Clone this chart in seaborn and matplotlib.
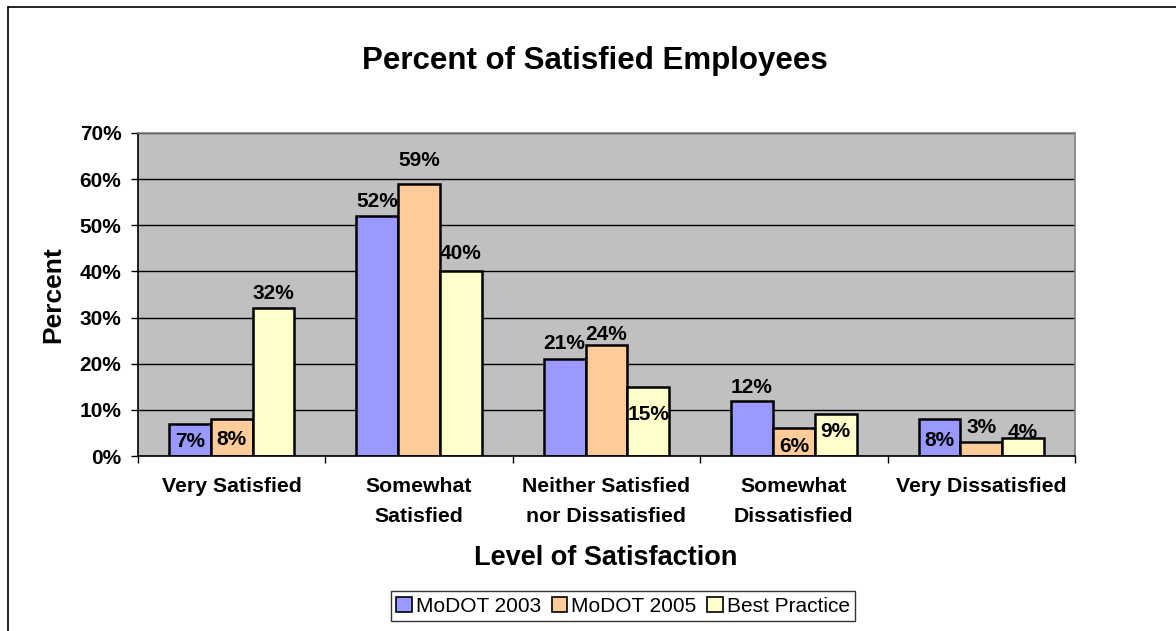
import pandas as pd
import seaborn as sns
import matplotlib.pyplot as plt
from matplotlib.lines import Line2D
from matplotlib.ticker import FixedLocator, FuncFormatter

# Data
categories = ["Very Satisfied", "Somewhat\nSatisfied", "Neither Satisfied\nnor Dissatisfied",
              "Somewhat\nDissatisfied", "Very Dissatisfied"]
series = ["MoDOT 2003", "MoDOT 2005", "Best Practice"]
modot_2003 = [7, 52, 21, 12, 8]
modot_2005 = [8, 59, 24, 6, 3]
best_practice = [32, 40, 15, 9, 4]
y_ticks = [0, 10, 20, 30, 40, 50, 60, 70]

colors = ["#9999FF", "#FFCC99", "#FFFFCC"]
# label baseline offset from bar top, in pixels (positive = above)
label_offsets = [
    [-23, 9, 10, 8, -27],
    [-26, 18, 5, -24, 9],
    [9, 12, -33, -23, 0],
]

rows = []
for name, vals in zip(series, [modot_2003, modot_2005, best_practice]):
    for cat, v in zip(categories, vals):
        rows.append({"level": cat, "pct": v, "series": name})
df = pd.DataFrame(rows)

sns.set_style("white")
plt.rcParams['font.family'] = ['Liberation Sans', 'DejaVu Sans']
plt.rcParams['text.color'] = 'black'
plt.rcParams['axes.labelcolor'] = 'black'
plt.rcParams['xtick.color'] = 'black'
plt.rcParams['ytick.color'] = 'black'

fig = plt.figure(figsize=(11.76, 6.31), dpi=100)
ax = fig.add_axes([138 / 1176, 1 - 456 / 631, 937 / 1176, 323 / 631])
ax.set_facecolor("#C0C0C0")

sns.barplot(data=df, x="level", y="pct", hue="series", palette=colors, saturation=1,
            width=0.67, edgecolor="black", linewidth=1.8, ax=ax, errorbar=None)

# value labels
for i, cont in enumerate(ax.containers):
    for j, bar in enumerate(cont):
        h = bar.get_height()
        ax.annotate(f"{int(round(h))}%", xy=(bar.get_x() + bar.get_width() / 2, h),
                    xytext=(0, label_offsets[i][j] * 0.72), textcoords="offset points",
                    ha="center", va="baseline", fontsize=15, fontweight="bold", color="black")

ax.set_xlim(-0.5, 4.5)
ax.set_ylim(0, 70)
ax.yaxis.set_major_locator(FixedLocator(y_ticks))
ax.yaxis.set_major_formatter(FuncFormatter(lambda v, p: f"{v:.0f}%"))
ax.yaxis.grid(True, color="black", linewidth=1)
ax.set_axisbelow(True)

ax.xaxis.set_minor_locator(FixedLocator([-0.5, 0.5, 1.5, 2.5, 3.5, 4.5]))
ax.tick_params(axis="x", which="major", length=0, pad=15, labelsize=15.3)
ax.tick_params(axis="x", which="minor", length=5, width=1, color="black", direction="out", bottom=True)
ax.tick_params(axis="y", length=5, width=1, color="black", direction="out", left=True, pad=7, labelsize=15)
for lab in ax.get_xticklabels() + ax.get_yticklabels():
    lab.set_fontweight("bold")
    lab.set_color("black")
for lab in ax.get_xticklabels():
    lab.set_linespacing(1.75)
ax.set_xlabel("")
ax.set_ylabel("")

for side in ["left", "bottom"]:
    ax.spines[side].set_color("black")
    ax.spines[side].set_linewidth(1.2)
for side in ["top", "right"]:
    ax.spines[side].set_color("#808080")
    ax.spines[side].set_linewidth(1.2)

# legend
handles, labels = ax.get_legend_handles_labels()
for h in handles:
    h.set_edgecolor("black")
    h.set_linewidth(1.2)
leg = ax.legend(handles, labels, loc="center", bbox_to_anchor=(623 / 1176, 1 - 606 / 631),
                bbox_transform=fig.transFigure, ncol=3, frameon=True, fancybox=False,
                edgecolor="black", fontsize=15, handlelength=0.75, handleheight=0.75,
                handletextpad=0.2, columnspacing=0.5, borderpad=0.25, borderaxespad=0)
leg.get_frame().set_linewidth(1)
for t in leg.get_texts():
    t.set_color("black")

# titles
fig.text(595 / 1176, 1 - 61 / 631, "Percent of Satisfied Employees", ha="center", va="center",
         fontsize=22.5, fontweight="bold", color="black")
fig.text(606 / 1176, 1 - 558 / 631, "Level of Satisfaction", ha="center", va="center",
         fontsize=19.5, fontweight="bold", color="black")
fig.text(53 / 1176, 1 - 295 / 631, "Percent", ha="center", va="center", rotation=90,
         fontsize=19, fontweight="bold", color="black")

# outer chart border (top and left visible)
fig.add_artist(Line2D([8 / 1176, 8 / 1176], [0, 1 - 7 / 631], transform=fig.transFigure,
                      color="black", linewidth=1.2))
fig.add_artist(Line2D([8 / 1176, 1], [1 - 7 / 631, 1 - 7 / 631], transform=fig.transFigure,
                      color="black", linewidth=1.2))

fig.savefig("out.png", dpi=100)
